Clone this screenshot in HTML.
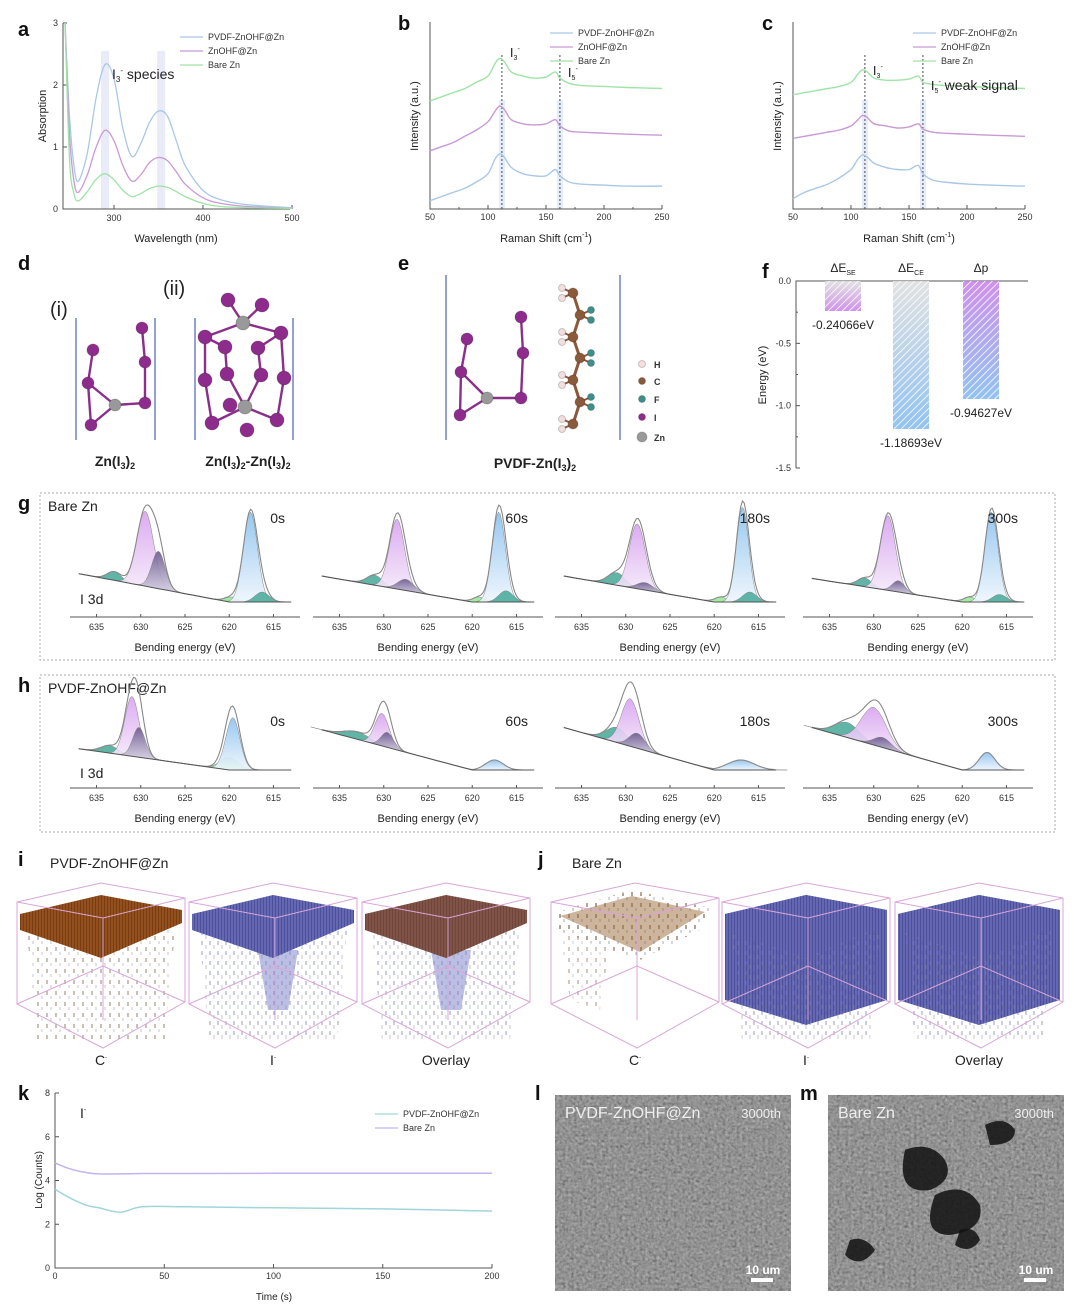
<!DOCTYPE html>
<html><head><meta charset="utf-8">
<style>
html,body{margin:0;padding:0;background:#fff;}
svg{display:block;font-family:"Liberation Sans",sans-serif;}
.tk{font-size:9px;fill:#333;}
.lb{font-size:11px;fill:#222;}
.pl{font-size:20px;font-weight:bold;fill:#111;}
.ax{stroke:#555;stroke-width:1;fill:none;}
</style></head>
<body>
<svg id="fig" width="1080" height="1310" viewBox="0 0 1080 1310">
<defs>
<linearGradient id="gPur" x1="0" y1="0" x2="0" y2="1"><stop offset="0" stop-color="#d9a3f0"/><stop offset="1" stop-color="#f6ecfb"/></linearGradient>
<linearGradient id="gBlu" x1="0" y1="0" x2="0" y2="1"><stop offset="0" stop-color="#8cc2ef"/><stop offset="1" stop-color="#eef6fd"/></linearGradient>
<linearGradient id="gDk" x1="0" y1="0" x2="0" y2="1"><stop offset="0" stop-color="#6b5a8e"/><stop offset="1" stop-color="#d8d2e4"/></linearGradient>
<linearGradient id="fSE" x1="0" y1="0" x2="0" y2="1"><stop offset="0" stop-color="#ddd"/><stop offset="1" stop-color="#c77ee8"/></linearGradient>
<linearGradient id="fCE" x1="0" y1="0" x2="0" y2="1"><stop offset="0" stop-color="#ddd"/><stop offset="1" stop-color="#7fb8ee"/></linearGradient>
<linearGradient id="fP" x1="0" y1="0" x2="0" y2="1"><stop offset="0" stop-color="#c77ee8"/><stop offset="1" stop-color="#7fb8ee"/></linearGradient>
<pattern id="hatch" width="5" height="5" patternUnits="userSpaceOnUse" patternTransform="rotate(45)"><line x1="0" y1="0" x2="0" y2="5" stroke="#fff" stroke-width="1.6"/></pattern>
<filter id="sem" x="0" y="0" width="100%" height="100%"><feTurbulence type="fractalNoise" baseFrequency="0.35" numOctaves="2" seed="3"/><feColorMatrix type="matrix" values="0.25 0.25 0.25 0 -0.05 0.25 0.25 0.25 0 -0.05 0.25 0.25 0.25 0 -0.05 0 0 0 0 1"/></filter>
<pattern id="brown" width="3" height="6" patternUnits="userSpaceOnUse"><rect width="3" height="6" fill="#7a3c10"/><line x1="1" y1="0" x2="1" y2="6" stroke="#a8642a" stroke-width="1"/></pattern>
<pattern id="blue" width="3" height="6" patternUnits="userSpaceOnUse"><rect width="3" height="6" fill="#4d4f9a"/><line x1="1" y1="0" x2="1" y2="6" stroke="#7a7fc8" stroke-width="1"/></pattern>
<pattern id="spBrown" width="9" height="11" patternUnits="userSpaceOnUse"><line x1="2" y1="1" x2="2" y2="5" stroke="#6b4a2a" stroke-width="1"/><line x1="6" y1="6" x2="6" y2="9" stroke="#999" stroke-width="0.8"/></pattern>
<pattern id="spBlue" width="8" height="10" patternUnits="userSpaceOnUse"><line x1="2" y1="1" x2="2" y2="5" stroke="#6a6cb8" stroke-width="1"/><line x1="6" y1="5" x2="6" y2="9" stroke="#888" stroke-width="0.7"/></pattern>
</defs>
<g id="root"></g>
</svg>
<script>
// ---------- data ----------
const aWave=[245,250,255,260,270,280,290,300,310,320,330,340,350,360,370,380,400,420,450,500];
const aPVDF=[3,1.5,0.7,0.45,0.9,1.8,2.33,2.1,1.3,0.85,1.05,1.4,1.58,1.5,1.1,0.7,0.3,0.15,0.07,0.02];
const aZnOHF=[3,1.2,0.45,0.27,0.55,1.0,1.27,1.1,0.7,0.45,0.55,0.75,0.83,0.78,0.6,0.4,0.18,0.09,0.04,0.01];
const aBare=[3,0.8,0.25,0.13,0.28,0.48,0.57,0.47,0.3,0.2,0.25,0.33,0.37,0.35,0.28,0.2,0.09,0.04,0.02,0.01];
const aTicksX=[300,400,500]; const aTicksY=[0,1,2,3];
const ramanShift=[50,60,70,80,90,100,106,110,114,120,130,140,150,158,162,170,180,200,220,250];
const bBlue=[0.4,0.6,0.8,1.0,1.3,1.7,2.4,2.65,2.5,2.0,1.7,1.6,1.6,1.9,1.6,1.3,1.2,1.15,1.1,1.1];
const bPurple=[2.8,3.0,3.2,3.5,3.8,4.2,4.7,4.95,4.8,4.3,4.1,4.05,4.1,4.3,4.0,3.75,3.7,3.65,3.6,3.55];
const bGreen=[5.2,5.4,5.6,5.8,6.1,6.4,7.0,7.25,7.1,6.6,6.4,6.3,6.35,6.6,6.3,6.05,5.95,5.9,5.85,5.8];
const cBlue=[0.5,0.8,1.0,1.2,1.5,1.9,2.4,2.6,2.5,2.2,2.0,1.9,1.9,2.1,1.7,1.4,1.3,1.2,1.15,1.1];
const cPurple=[3.4,3.5,3.6,3.7,3.8,4.0,4.3,4.5,4.4,4.1,4.0,3.9,3.95,4.1,3.85,3.7,3.65,3.6,3.55,3.5];
const cGreen=[5.5,5.6,5.7,5.8,5.9,6.1,6.5,6.7,6.6,6.3,6.2,6.2,6.25,6.4,6.1,6.0,5.95,5.9,5.85,5.8];
const ramanTicks=[50,100,150,200,250];
const fCats=["ΔE_SE","ΔE_CE","Δp"];
const fVals=[-0.24066,-1.18693,-0.94627];
const fTicks=[0,-0.5,-1.0,-1.5];
const xpsTicks=[635,630,625,620,615];
const gTimes=["0s","60s","180s","300s"];
const gPeaks=[
 [[633,0.35,0.8,"t"],[629.5,3.0,0.95,"p"],[628,1.5,0.75,"d"],[619.8,0.2,0.7,"g"],[617.6,3.6,0.8,"b"],[616.3,0.4,0.8,"t"]],
 [[631,0.4,0.9,"t"],[628.5,2.8,0.85,"p"],[627.5,0.45,0.9,"d"],[619.3,0.2,0.7,"g"],[617,3.6,0.75,"b"],[616.2,0.45,0.8,"t"]],
 [[631,0.5,1.0,"t"],[628.7,2.6,0.9,"p"],[627.8,0.3,0.9,"d"],[619.3,0.2,0.7,"g"],[616.8,3.8,0.7,"b"],[616,0.4,0.8,"t"]],
 [[631,0.35,0.8,"t"],[628.4,3.0,0.85,"p"],[627.2,0.45,0.7,"d"],[619.2,0.2,0.7,"g"],[616.7,3.6,0.75,"b"],[615.8,0.3,0.8,"t"]]];
const gBg=[[1.2,0],[1.1,0],[1.1,0],[1.0,0]];
const hTimes=["0s","60s","180s","300s"];
const hPeaks=[
 [[633.5,0.3,1.0,"t"],[631,2.4,0.8,"p"],[630.2,1.2,0.7,"d"],[620,0.5,1.0,"g"],[619.6,2.1,0.8,"b"]],
 [[633,0.3,1.5,"t"],[630.2,1.3,0.8,"p"],[629.6,0.6,0.7,"d"],[617.5,0.4,1.0,"b"]],
 [[631,0.6,1.2,"t"],[629.5,1.9,1.0,"p"],[628.7,0.6,0.9,"d"],[617,0.4,1.5,"b"]],
 [[633,0.6,1.4,"t"],[630,1.5,1.4,"p"],[629,0.4,1.0,"d"],[617.2,0.7,0.9,"b"]]];
const hBg=[[0.9,0],[1.7,0],[1.8,0],[1.8,0]];
const kTime=[0,5,10,15,20,30,40,60,100,150,200];
const kBare=[4.8,4.6,4.45,4.35,4.3,4.3,4.32,4.32,4.33,4.33,4.33];
const kPVDF=[3.6,3.3,3.05,2.85,2.75,2.55,2.8,2.8,2.75,2.7,2.6];
const kTicksX=[0,50,100,150,200]; const kTicksY=[0,2,4,6,8];

// ---------- helpers ----------
const NS="http://www.w3.org/2000/svg";
const root=document.getElementById('root');
function el(tag,at,parent){const e=document.createElementNS(NS,tag);for(const k in at)e.setAttribute(k,at[k]);(parent||root).appendChild(e);return e;}
function txt(x,y,s,cls,extra,parent){const t=el('text',Object.assign({x:x,y:y,class:cls},extra||{}),parent);t.textContent=s;if(extra&&extra["font-size"])t.style.fontSize=extra["font-size"]+"px";return t;}
function smooth(pts){let d="M"+pts[0][0].toFixed(1)+","+pts[0][1].toFixed(1);for(let i=0;i<pts.length-1;i++){const p0=pts[i-1]||pts[i],p1=pts[i],p2=pts[i+1],p3=pts[i+2]||p2;const c1=[p1[0]+(p2[0]-p0[0])/6,p1[1]+(p2[1]-p0[1])/6],c2=[p2[0]-(p3[0]-p1[0])/6,p2[1]-(p3[1]-p1[1])/6];d+="C"+c1[0].toFixed(1)+","+c1[1].toFixed(1)+" "+c2[0].toFixed(1)+","+c2[1].toFixed(1)+" "+p2[0].toFixed(1)+","+p2[1].toFixed(1);}return d;}
function lin(d0,d1,r0,r1){return v=>r0+(v-d0)/(d1-d0)*(r1-r0);}
function panelLabel(x,y,s){const t=txt(x,y,s,'pl');}

// ---------- panel a ----------
(function(){
 const g=el('g',{});
 const X=lin(300,400,114,203),Y=lin(0,3,209,23);
 [290,353].forEach(w=>{const r=el('rect',{x:X(w)-4,y:Y(2.55),width:8,height:209-Y(2.55),fill:"#dfe3f5",opacity:0.7},g);});
 el('path',{d:"M63,23 V209 H290",class:'ax'},g);
 aTicksX.forEach(v=>{el('line',{x1:X(v),x2:X(v),y1:209,y2:205,class:'ax'},g);const t=txt(X(v),221,v,'tk',{"text-anchor":"middle"},g);});
 aTicksY.forEach(v=>{el('line',{x1:63,x2:67,y1:Y(v),y2:Y(v),class:'ax'},g);const t=txt(58,Y(v)+3,v,'tk',{"text-anchor":"end"},g);});
 [[aPVDF,"#a9c8e8"],[aZnOHF,"#c99ad6"],[aBare,"#9fe3a6"]].forEach(([s,c],i)=>{const p=el('path',{d:smooth(aWave.map((w,j)=>[Math.max(X(w),63),Y(s[j])])),stroke:c,"stroke-width":1.3,fill:"none"},g);});
 const yl=txt(46,116,"Absorption",'lb',{transform:"rotate(-90 46 116)","text-anchor":"middle"},g);
 const xl=txt(176,242,"Wavelength (nm)",'lb',{"text-anchor":"middle"},g);
 const sp=txt(112,79,"I",'lb',{"font-size":"14"},g);sp.innerHTML='I<tspan font-size="8" dy="3">3</tspan><tspan font-size="8" dy="-9">-</tspan><tspan dy="6"> species</tspan>';
 [["PVDF-ZnOHF@Zn","#a9c8e8"],["ZnOHF@Zn","#c99ad6"],["Bare Zn","#9fe3a6"]].forEach(([n,c],i)=>{const y=37+i*14;const lg=el('g',{},g);el('line',{x1:180,x2:203,y1:y,y2:y,stroke:c,"stroke-width":1.3},lg);txt(208,y+3,n,'tk',{},lg);});
})();
panelLabel(18,36,"a");

// ---------- panels b,c ----------
function raman(x0,label,series,ann){
 const g=el('g',{});
 const X=lin(50,250,x0,x0+232),Y=lin(0,9,209,22);
 [112,162].forEach(s=>{el('rect',{x:X(s)-3,y:100,width:6,height:109,fill:"#e1e8f6",opacity:0.8},g);const l=el('line',{x1:X(s),x2:X(s),y1:55,y2:209,stroke:"#334","stroke-dasharray":"2,2","stroke-width":0.9},g);});
 el('path',{d:"M"+x0+",22 V209 H"+(x0+232),class:'ax'},g);
 ramanTicks.forEach(v=>{el('line',{x1:X(v),x2:X(v),y1:209,y2:205,class:'ax'},g);const t=txt(X(v),220,v,'tk',{"text-anchor":"middle"},g);});
 [75,125,175,225].forEach(v=>el('line',{x1:X(v),x2:X(v),y1:209,y2:207,class:'ax'},g));
 const cols=["#a9c8e8","#c99ad6","#9fe3a6"];
 series.forEach((s,i)=>{const p=el('path',{d:smooth(ramanShift.map((w,j)=>[X(w),Y(s[j])])),stroke:cols[i],"stroke-width":1.4,fill:"none"},g);});
 const yl=txt(x0-12,116,"Intensity (a.u.)",'lb',{transform:"rotate(-90 "+(x0-12)+" 116)","text-anchor":"middle"},g);
 const xl=txt(x0+116,242,"",'lb',{"text-anchor":"middle"},g);xl.innerHTML='Raman Shift (cm<tspan font-size="7" dy="-5">-1</tspan><tspan dy="5">)</tspan>';
 const a1=txt(X(112)+8,ann[0],"",'lb',{"font-size":"13"},g);a1.innerHTML='I<tspan font-size="7" dy="3">3</tspan><tspan font-size="7" dy="-9">-</tspan>';
 const a2=txt(X(162)+8,ann[1],"",'lb',{"font-size":"13"},g);a2.innerHTML='I<tspan font-size="7" dy="3">5</tspan><tspan font-size="7" dy="-9">-</tspan>'+(ann[2]?'<tspan dy="6" font-size="14"> weak signal</tspan>':'');
 [["PVDF-ZnOHF@Zn",cols[0]],["ZnOHF@Zn",cols[1]],["Bare Zn",cols[2]]].forEach(([n,c],i)=>{const y=33+i*14;const lg=el('g',{},g);el('line',{x1:x0+120,x2:x0+143,y1:y,y2:y,stroke:c,"stroke-width":1.3},lg);txt(x0+148,y+3,n,'tk',{},lg);});
}
raman(430,"b",[bBlue,bPurple,bGreen],[57,77,false]);
raman(793,"c",[cBlue,cPurple,cGreen],[75,90,true]);
panelLabel(398,30,"b");panelLabel(762,30,"c");

// ---------- panels d,e (molecules) ----------
panelLabel(18,270,"d");panelLabel(398,270,"e");
function atom(x,y,r,c,g){const a=el('circle',{cx:x,cy:y,r:r,fill:c,stroke:"#00000030"},g);}
function bonds(list,g,c){list.forEach(([a,b,cc,dd])=>el('line',{x1:a,y1:b,x2:cc,y2:dd,stroke:c||"#8a2f8a","stroke-width":2.4},g));}
(function(){
 const g=el('g',{});
 txt(50,316,"(i)",'lb',{"font-size":"20"},g);txt(163,295,"(ii)",'lb',{"font-size":"20"},g);
 [76,155,195,293].forEach(x=>el('line',{x1:x,x2:x,y1:318,y2:440,stroke:"#4a63b8","stroke-width":1.2},g));
 bonds([[93,350,88,383],[88,383,91,425],[88,383,115,405],[91,425,115,405],[115,405,145,403],[145,403,145,362],[145,362,142,328]],g);
 [[93,350],[88,383],[91,425],[145,403],[145,362],[142,328]].forEach(p=>atom(p[0],p[1],6,"#8e2c8e",g));atom(115,405,6,"#999",g);
 const P=[[228,300],[262,305],[205,337],[281,333],[225,347],[258,348],[205,380],[227,374],[261,375],[284,378],[212,423],[277,420],[247,430],[230,405]];
 bonds([[228,300,243,323],[262,305,243,323],[205,337,243,323],[281,333,243,323],[205,337,205,380],[281,333,284,378],[225,347,227,374],[258,348,261,375],[205,380,212,423],[284,378,277,420],[212,423,245,407],[277,420,245,407],[227,374,245,407],[261,375,245,407],[225,347,205,337],[258,348,281,333]],g);
 P.forEach(p=>atom(p[0],p[1],7,"#8e2c8e",g));atom(243,323,7,"#999",g);atom(245,407,7,"#999",g);
 const l1=txt(115,466,"",'lb',{"font-size":"14","font-weight":"bold","text-anchor":"middle"},g);l1.innerHTML='Zn(I<tspan font-size="9" dy="3">3</tspan><tspan dy="-3">)</tspan><tspan font-size="9" dy="3">2</tspan>';
 const l2=txt(248,466,"",'lb',{"font-size":"14","font-weight":"bold","text-anchor":"middle"},g);l2.innerHTML='Zn(I<tspan font-size="9" dy="3">3</tspan><tspan dy="-3">)</tspan><tspan font-size="9" dy="3">2</tspan><tspan dy="-3">-Zn(I</tspan><tspan font-size="9" dy="3">3</tspan><tspan dy="-3">)</tspan><tspan font-size="9" dy="3">2</tspan>';
 
 const e=el('g',{});
 [446,620].forEach(x=>el('line',{x1:x,x2:x,y1:275,y2:440,stroke:"#4a63b8","stroke-width":1.2},e));
 bonds([[467,339,461,372],[461,372,460,415],[461,372,487,398],[460,415,487,398],[487,398,521,398],[521,398,523,353],[523,353,521,317]],e);
 [[467,339],[461,372],[460,415],[521,398],[523,353],[521,317]].forEach(p=>atom(p[0],p[1],6,"#8e2c8e",e));atom(487,398,6,"#999",e);
 const chain=[[573,293],[580,315],[573,337],[580,358],[573,380],[580,402],[573,424]];
 for(let i=0;i<chain.length-1;i++)el('line',{x1:chain[i][0],y1:chain[i][1],x2:chain[i+1][0],y2:chain[i+1][1],stroke:"#8a5a3a","stroke-width":3},e);
 chain.forEach((p,i)=>{const s=i%2?1:-1;el('line',{x1:p[0],y1:p[1],x2:p[0]+s*11,y2:p[1]-5,stroke:"#8a5a3a","stroke-width":2},e);el('line',{x1:p[0],y1:p[1],x2:p[0]+s*11,y2:p[1]+5,stroke:"#8a5a3a","stroke-width":2},e);atom(p[0]+s*11,p[1]-5,3.5,i%2?"#3d8f8a":"#f2dede",e);atom(p[0]+s*11,p[1]+5,3.5,i%2?"#3d8f8a":"#f2dede",e);atom(p[0],p[1],5,"#8a5a3a",e);});
 [["H","#f6dede",367],["C","#8a5a3a",384],["F","#3d8f8a",402],["I","#8e2c8e",420],["Zn","#999",440]].forEach(([n,c,y],i)=>{const lg=el('g',{},e);atom(642,y-3,i==4?5:3.5,c,lg);txt(654,y+1,n,'tk',{"font-weight":"bold"},lg);});
 const l3=txt(535,468,"",'lb',{"font-size":"14","font-weight":"bold","text-anchor":"middle"},e);l3.innerHTML='PVDF-Zn(I<tspan font-size="9" dy="3">3</tspan><tspan dy="-3">)</tspan><tspan font-size="9" dy="3">2</tspan>';
})();

// ---------- panel f ----------
(function(){
 const g=el('g',{});
 const Y=lin(0,-1.5,281,468),bx=[825,893,963],fills=["url(#fSE)","url(#fCE)","url(#fP)"];
 el('path',{d:"M796,468 V281 H1028",class:'ax'},g);
 fTicks.forEach(v=>{el('line',{x1:796,x2:800,y1:Y(v),y2:Y(v),class:'ax'},g);const t=txt(791,Y(v)+3,v.toFixed(1),'tk',{"text-anchor":"end"},g);});
 [-0.25,-0.75,-1.25].forEach(v=>el('line',{x1:796,x2:798,y1:Y(v),y2:Y(v),class:'ax'},g));
 fVals.forEach((v,i)=>{const b=el('rect',{x:bx[i],y:Y(0),width:36,height:Y(v)-Y(0),fill:fills[i],opacity:0.85},g);el('rect',{x:bx[i],y:Y(0),width:36,height:Y(v)-Y(0),fill:"url(#hatch)"},g);
  const t=txt(bx[i]+18,Y(v)+18,v.toFixed(5)+"eV",'lb',{"text-anchor":"middle","font-size":"12"},g);
  const parts=fCats[i].split("_");const c=txt(bx[i]+18,272,"",'lb',{"text-anchor":"middle","font-size":"12"},g);c.innerHTML=parts[0]+(parts[1]?'<tspan font-size="7" dy="3">'+parts[1]+'</tspan>':'');});
 const yl=txt(766,375,"Energy (eV)",'lb',{transform:"rotate(-90 766 375)","text-anchor":"middle"},g);
})();
panelLabel(762,278,"f");

// ---------- panels g,h XPS ----------
const cmap={p:"url(#gPur)",b:"url(#gBlu)",d:"url(#gDk)",t:"#4fae9e",g:"#9be79b"};
function xps(boxY,boxH,axisY,baseY,scale,peaks,bgs,times,title,tag){
 const gg=el('g',{});
 el('rect',{x:40,y:boxY,width:1015,height:boxH,fill:"none",stroke:"#aaa","stroke-dasharray":"2,2"},gg);
 txt(48,boxY+18,title,'lb',{"font-size":"14"},gg);
 const offs=[70,313,555,803];
 offs.forEach((x0,k)=>{
  const g=el('g',{},gg);
  const X=lin(638,612,x0,x0+230);
  const bg=en=>{const h=bgs[k][0];return en>620?h*(en-620)/18:0;};
  const sum=en=>bg(en)+peaks[k].reduce((s,pk)=>s+pk[1]*Math.exp(-((en-pk[0])**2)/(2*pk[2]*pk[2])),0);
  const Yv=v=>baseY-v*scale;
  peaks[k].forEach(([c,h,w,col])=>{const pts=[];for(let en=c+3.5*w;en>=c-3.5*w;en-=0.2)pts.push([X(en),Yv(bg(en)+h*Math.exp(-((en-c)**2)/(2*w*w)))]);for(let en=c-3.5*w;en<=c+3.5*w;en+=0.2)pts.push([X(en),Yv(bg(en))]);const p=el('path',{d:"M"+pts.map(q=>q[0].toFixed(1)+","+q[1].toFixed(1)).join("L")+"Z",fill:cmap[col],stroke:"#777","stroke-width":0.5,opacity:0.9},g);});
  const env=[];for(let en=637;en>=613;en-=0.2)env.push([X(en),Yv(sum(en))]);
  const ep=el('path',{d:"M"+env.map(q=>q[0].toFixed(1)+","+q[1].toFixed(1)).join("L"),fill:"none",stroke:"#888","stroke-width":1.1},g);
  const bl=[];for(let en=637;en>=613;en-=1)bl.push([X(en),Yv(bg(en))]);el('path',{d:"M"+bl.map(q=>q[0].toFixed(1)+","+q[1].toFixed(1)).join("L"),fill:"none",stroke:"#555","stroke-width":1},g);
  el('line',{x1:x0,x2:x0+230,y1:axisY,y2:axisY,class:'ax'},g);
  xpsTicks.forEach(v=>{el('line',{x1:X(v),x2:X(v),y1:axisY,y2:axisY-3,class:'ax'},g);const t=txt(X(v),axisY+13,v,'tk',{"text-anchor":"middle"},g);});
  const xl=txt(x0+115,axisY+34,"Bending energy (eV)",'lb',{"text-anchor":"middle"},g);
  const tl=txt(x0+215,boxY+(tag=="g"?30:51),times[k],'lb',{"text-anchor":"end","font-size":"14"},g);
 });
 txt(80,axisY-(tag=="g"?13:10),"I 3d",'lb',{"font-size":"14"},gg);
}
xps(493,167,617,602,25,gPeaks,gBg,gTimes,"Bare Zn","g");
xps(675,157,788,770,25,hPeaks,hBg,hTimes,"PVDF-ZnOHF@Zn","h");
panelLabel(18,510,"g");panelLabel(18,692,"h");

// ---------- panels i,j 3D ----------
function cube(x0,top,kind,label){
 const g=el('g',{});
 const w=168,cx=x0+84;
 const T=[cx,883],L=[x0,902],R=[x0+w,898],C=[cx+2,918];
 const surf="M"+(L[0]+3)+","+(L[1]+12)+" L"+T[0]+","+(T[1]+12)+" L"+(R[0]-3)+","+(R[1]+12)+" L"+(R[0]-3)+","+(R[1]+25)+" L"+cx+",958 L"+(L[0]+3)+","+(L[1]+28)+"Z";
 if(kind=="dense"){el('path',{d:"M"+(L[0]+3)+","+(L[1]+12)+" L"+T[0]+","+(T[1]+12)+" L"+(R[0]-3)+","+(R[1]+12)+" L"+(R[0]-3)+",1000 L"+cx+",1025 L"+(L[0]+3)+",1000Z",fill:"url(#blue)"},g);}
 if(top){
  el('path',{d:"M"+(L[0]+10)+",930 L"+(R[0]-10)+",930 L"+(R[0]-20)+",1040 L"+(L[0]+20)+",1040Z",fill:top=="brown"?"url(#spBrown)":"url(#spBlue)",opacity:0.7},g);
  if(kind=="mixI")el('path',{d:"M"+(cx-15)+",950 L"+(cx+25)+",950 L"+(cx+15)+",1010 L"+(cx-5)+",1010Z",fill:"#7a7fc8",opacity:0.5},g);
  el('path',{d:surf,fill:(top=="blue")?"url(#blue)":"url(#brown)"},g);
  if(top=="mixC")el('path',{d:surf,fill:"#5a5ca8",opacity:0.3},g);
 }
 const pc="#d9a6d9";
 el('path',{d:"M"+L[0]+","+L[1]+" L"+T[0]+","+T[1]+" L"+R[0]+","+R[1]+" L"+R[0]+",1002 L"+(cx+2)+",1048 L"+L[0]+",1004Z M"+L[0]+","+L[1]+" L"+C[0]+","+C[1]+" L"+R[0]+","+R[1]+" M"+C[0]+","+C[1]+" V1020 M"+L[0]+",1004 L"+C[0]+",966 L"+R[0]+",1002",fill:"none",stroke:pc,"stroke-width":1},g);
 const t=txt(cx,1065,label,'lb',{"text-anchor":"middle","font-size":"14"},g);t.innerHTML=label=="Overlay"?"Overlay":label+'<tspan font-size="6" dy="-6">-</tspan>';
}
panelLabel(18,866,"i");txt(50,868,"PVDF-ZnOHF@Zn",'lb',{"font-size":"14"});
cube(17,"brown","sc","C");cube(189,"blue","mixI","I");cube(362,"mixC","mixI","Overlay");
panelLabel(538,866,"j");txt(572,868,"Bare Zn",'lb',{"font-size":"14"});
(function(){const g=el('g',{});
 el('path',{d:"M556,912 L632,890 L710,908 L700,930 L640,960 L556,930Z",fill:"url(#spBrown)"},g);
 el('path',{d:"M560,916 L632,896 L705,912 L640,952Z",fill:"#9b6a3a",opacity:0.5},g);
 el('path',{d:"M560,930 L610,940 L600,1010 L570,1000Z",fill:"url(#spBrown)",opacity:0.6},g);})();
cube(551,null,"none","C");cube(722,"blue","dense","I");cube(895,"blue","dense","Overlay");

// ---------- panel k ----------
(function(){
 const g=el('g',{});
 const X=lin(0,200,55,492),Y=lin(0,8,1268,1093);
 el('path',{d:"M55,1093 V1268 H492",class:'ax'},g);
 kTicksX.forEach(v=>{el('line',{x1:X(v),x2:X(v),y1:1268,y2:1264,class:'ax'},g);const t=txt(X(v),1279,v,'tk',{"text-anchor":"middle"},g);});
 kTicksY.forEach(v=>{el('line',{x1:55,x2:59,y1:Y(v),y2:Y(v),class:'ax'},g);const t=txt(50,Y(v)+3,v,'tk',{"text-anchor":"end"},g);});
 [[kPVDF,"#9fd6dc"],[kBare,"#c4b2f0"]].forEach(([s,c],i)=>{const p=el('path',{d:smooth(kTime.map((t,j)=>[X(t),Y(s[j])])),stroke:c,"stroke-width":1.5,fill:"none"},g);});
 const yl=txt(42,1180,"Log (Counts)",'lb',{transform:"rotate(-90 42 1180)","text-anchor":"middle","font-size":"10"},g);
 const xl=txt(274,1300,"Time (s)",'lb',{"text-anchor":"middle","font-size":"10"},g);
 const a=txt(80,1118,"",'lb',{"font-size":"14"},g);a.innerHTML='I<tspan font-size="7" dy="-6">-</tspan>';
 [["PVDF-ZnOHF@Zn","#9fd6dc"],["Bare Zn","#c4b2f0"]].forEach(([n,c],i)=>{const y=1114+i*14;const lg=el('g',{},g);el('line',{x1:375,x2:398,y1:y,y2:y,stroke:c,"stroke-width":1.3},lg);txt(403,y+3,n,'tk',{},lg);});
})();
panelLabel(18,1100,"k");

// ---------- panels l,m SEM ----------
function sem(x,label,bare){
 const g=el('g',{});
 el('rect',{x:x,y:1095,width:236,height:196,fill:"#444"},g);
 el('rect',{x:x,y:1095,width:236,height:196,filter:"url(#sem)",opacity:0.9},g);
 if(bare){["M905,1150 q25,-10 40,10 q10,20 -15,30 q-35,5 -25,-40Z","M935,1195 q30,-15 45,10 q5,25 -30,30 q-30,0 -15,-40Z","M960,1230 q15,-5 20,10 q-10,15 -25,5Z","M985,1125 q20,-10 30,5 q0,15 -25,15Z","M850,1240 q15,-5 25,10 q-15,20 -30,5Z"].forEach(d=>el('path',{d:d,fill:"#111",opacity:0.85},g));}
 txt(x+10,1118,label,'lb',{"font-size":"16",style:"fill:#eee"},g);
 txt(x+226,1118,"3000th",'lb',{"font-size":"13","text-anchor":"end",style:"fill:#eee"},g);
 txt(x+208,1274,"10 um",'lb',{"font-size":"12","text-anchor":"middle","font-weight":"bold",style:"fill:#fff"},g);
 el('rect',{x:x+196,y:1278,width:22,height:4,fill:"#fff"},g);
}
sem(555,"PVDF-ZnOHF@Zn",false);sem(828,"Bare Zn",true);
panelLabel(535,1100,"l");panelLabel(800,1100,"m");
</script>
</body></html>
